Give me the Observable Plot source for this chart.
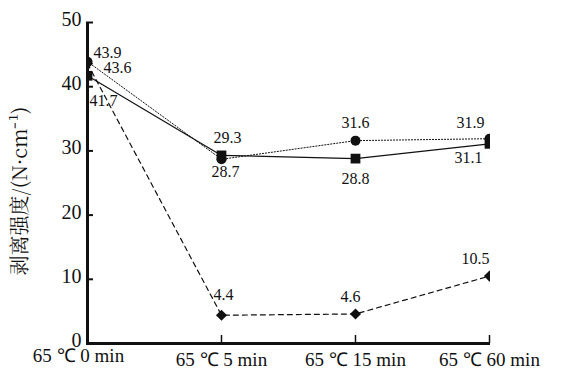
<!DOCTYPE html>
<html>
<head>
<meta charset="utf-8">
<script src="https://cdn.jsdelivr.net/npm/d3@7"></script>
<script src="https://cdn.jsdelivr.net/npm/@observablehq/plot@0.6"></script>
<style>
  html, body { margin: 0; padding: 0; background: #fff; }
</style>
</head>
<body>
<div id="chart"></div>
<script>
const categories = ["65 ℃ 0 min", "65 ℃ 5 min", "65 ℃ 15 min", "65 ℃ 60 min"];
const seriesCircle = [43.9, 28.7, 31.6, 31.9];   // dotted line, circles
const seriesSquare = [41.7, 29.3, 28.8, 31.1];   // solid line, squares
const seriesDiamond = [43.6, 4.4, 4.6, 10.5];    // dashed line, diamonds
const yTicks = [0, 10, 20, 30, 40, 50];
const yLabel = "剥离强度/(N·cm⁻¹)";

const SERIF = "'Liberation Serif', 'Times New Roman', serif";
const CJK = "'Noto Serif CJK SC', 'Liberation Serif', serif";
const toRows = (vals, name) => vals.map((v, i) => ({cat: categories[i], value: v, series: name}));
const circleRows = toRows(seriesCircle, "circle");
const squareRows = toRows(seriesSquare, "square");
const diamondRows = toRows(seriesDiamond, "diamond");

// label offsets (layout only)
const labelOffsets = {
  circle:  [[20, -9], [4, 13], [0, -18], [-19, -16]],
  square:  [[16, 25], [6, -18], [0, 20], [-21, 14]],
  diamond: [[30, 4], [2, -20], [-5, -17], [-14, -17]]
};

const labelMarks = [];
for (const [rows, name] of [[circleRows, "circle"], [squareRows, "square"], [diamondRows, "diamond"]]) {
  rows.forEach((r, i) => {
    const [dx, dy] = labelOffsets[name][i];
    labelMarks.push(Plot.text([r], {x: "cat", y: "value", text: d => d.value.toFixed(1), dx, dy, fontSize: 16, fill: "#111", fontFamily: SERIF}));
  });
}

// white masks in the side margins so end markers look clipped at the frame edge
const sideMask = (index, scales, values, dimensions) => {
  const {width, height, marginLeft, marginRight, marginTop, marginBottom} = dimensions;
  const g = d3.create("svg:g");
  g.append("rect").attr("x", 0).attr("y", marginTop - 10).attr("width", marginLeft)
    .attr("height", height - marginTop - marginBottom + 10).attr("fill", "#fff");
  g.append("rect").attr("x", width - marginRight).attr("y", marginTop - 10).attr("width", marginRight)
    .attr("height", height - marginTop - marginBottom + 10).attr("fill", "#fff");
  return g.node();
};

const chart = Plot.plot({
  width: 582,
  height: 381,
  marginLeft: 86,
  marginRight: 92,
  marginTop: 22,
  marginBottom: 38,
  style: {fontFamily: SERIF, background: "#fff", color: "#111"},
  x: {type: "point", domain: categories, padding: 0},
  y: {domain: [0, 50]},
  marks: [
    Plot.line(circleRows, {x: "cat", y: "value", stroke: "#111", strokeWidth: 1, strokeDasharray: "1.2,1.8"}),
    Plot.line(squareRows, {x: "cat", y: "value", stroke: "#111", strokeWidth: 1.2}),
    Plot.line(diamondRows, {x: "cat", y: "value", stroke: "#111", strokeWidth: 1.2, strokeDasharray: "5,4"}),
    Plot.dot(circleRows, {x: "cat", y: "value", symbol: "circle", r: 5, fill: "#111"}),
    Plot.dot(squareRows, {x: "cat", y: "value", symbol: "square", r: 5.5, fill: "#111"}),
    Plot.dot(diamondRows, {x: "cat", y: "value", symbol: "diamond2", r: 5, fill: "#111"}),
    sideMask,
    Plot.axisY(yTicks, {tickSize: 0, tickPadding: 5, dy: -3, fontSize: 20, label: null, fontFamily: SERIF}),
    Plot.axisY(yTicks, {tickSize: -7, text: null, label: null, strokeWidth: 2}),
    Plot.axisX(categories.slice(1), {tickSize: 0, tickPadding: 9, fontSize: 19, label: null, fontFamily: SERIF}),
    Plot.text([categories[0]], {x: d => d, frameAnchor: "bottom", dy: 18, dx: -9, fontSize: 19, fill: "#111", fontFamily: SERIF}),
    Plot.axisX(categories.slice(1), {tickSize: -8, text: null, label: null, strokeWidth: 1.5}),
    Plot.text([yLabel], {frameAnchor: "left", textAnchor: "middle", dx: -66, dy: 8, rotate: -90, fontSize: 20, fill: "#111", fontFamily: CJK}),
    Plot.ruleX([categories[0]], {y1: 0, y2: 50, stroke: "#111", strokeWidth: 3}),
    Plot.ruleY([0], {stroke: "#111", strokeWidth: 3}),
    ...labelMarks
  ]
});
document.getElementById("chart").appendChild(chart);
</script>
</body>
</html>
